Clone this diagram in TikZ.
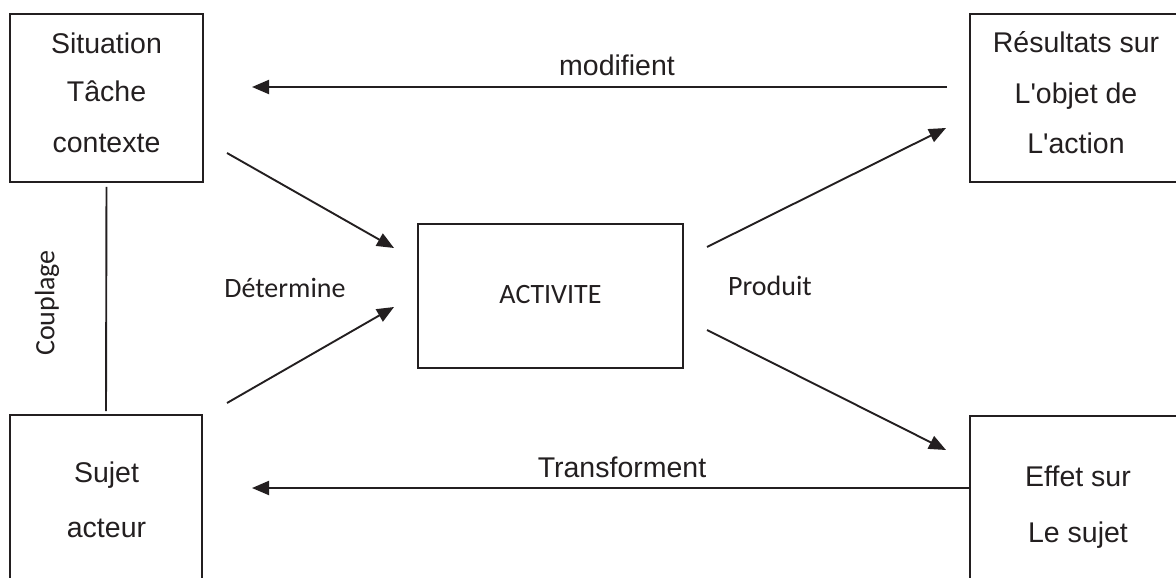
\documentclass[tikz,border=0pt]{standalone}
\usepackage{fontspec}
\setmainfont{Liberation Sans}
\newfontfamily\calib{Carlito}
\usetikzlibrary{arrows.meta}
\definecolor{ink}{HTML}{231F20}
\tikzset{
  boxstyle/.style={draw=ink, line width=1.7pt, rectangle, inner sep=0pt},
  arial/.style={text=ink, font=\fontsize{28.5}{30}\selectfont, anchor=base, inner sep=0pt},
  calibri/.style={text=ink, font=\calib\fontsize{28}{30}\selectfont, anchor=base, inner sep=0pt},
  conn/.style={draw=ink, line width=1.9pt, -{Triangle[length=17pt,width=14pt]}},
  plainline/.style={draw=ink, line width=1.9pt}
}
\begin{document}
\begin{tikzpicture}[x=1pt,y=-1pt]
\useasboundingbox (0,0) rectangle (1176,578);
\clip (0,0) rectangle (1176,578);
% boxes
\node[boxstyle, minimum width=193pt, minimum height=168pt] (sit) at (106.5,98) {};
\node[boxstyle, minimum width=192pt, minimum height=185pt] (suj) at (106,507.5) {};
\node[boxstyle, minimum width=212pt, minimum height=168pt] (res) at (1076,98) {};
\node[boxstyle, minimum width=212pt, minimum height=184pt] (eff) at (1076,508) {};
\node[boxstyle, minimum width=265pt, minimum height=144pt] (act) at (550.5,296) {};
% box texts
\node[arial] (t1) at (106.5,54) {Situation};
\node[arial] (t2) at (106.5,102) {Tâche};
\node[arial] (t3) at (106.5,152) {contexte};
\node[arial] (t4) at (106.5,482) {Sujet};
\node[arial] (t5) at (106.5,537) {acteur};
\node[arial] (t6) at (1076,53) {Résultats sur};
\node[arial] (t7) at (1076,103) {L\textquotesingle objet de};
\node[arial] (t8) at (1076,153) {L\textquotesingle action};
\node[arial] (t9) at (1078,486) {Effet sur};
\node[arial] (t10) at (1078,542) {Le sujet};
\node[calibri] (t11) at (550.5,303) {ACTIVITE};
% labels
\node[arial] (lmod) at (617,76) {modifient};
\node[arial] (ltra) at (622,477) {Transforment};
\node[calibri] (ldet) at (285,297) {Détermine};
\node[calibri] (lpro) at (770,295) {Produit};
\node[calibri, anchor=center, rotate=90] (lcou) at (47,303) {Couplage};
% connector end points
\coordinate (a1s) at (227,153);
\coordinate (a1e) at (394,248);
\coordinate (a2s) at (227,403);
\coordinate (a2e) at (394,307);
\coordinate (a3s) at (707,247);
\coordinate (a3e) at (946,128);
\coordinate (a4s) at (707,330);
\coordinate (a4e) at (946,450);
\coordinate (m1s) at (947,87);
\coordinate (m1e) at (252,87);
\coordinate (tr1s) at (970,488);
\coordinate (tr1e) at (252,488);
% connectors
\draw[conn] (a1s) -- (a1e);
\draw[conn] (a2s) -- (a2e);
\draw[conn] (a3s) -- (a3e);
\draw[conn] (a4s) -- (a4e);
\draw[conn] (m1s) -- (m1e);
\draw[conn] (eff.west |- tr1s) -- (tr1e);
\draw[plainline, shorten <=4pt, shorten >=3pt] (sit.south) -- (suj.north);
\end{tikzpicture}
\end{document}
